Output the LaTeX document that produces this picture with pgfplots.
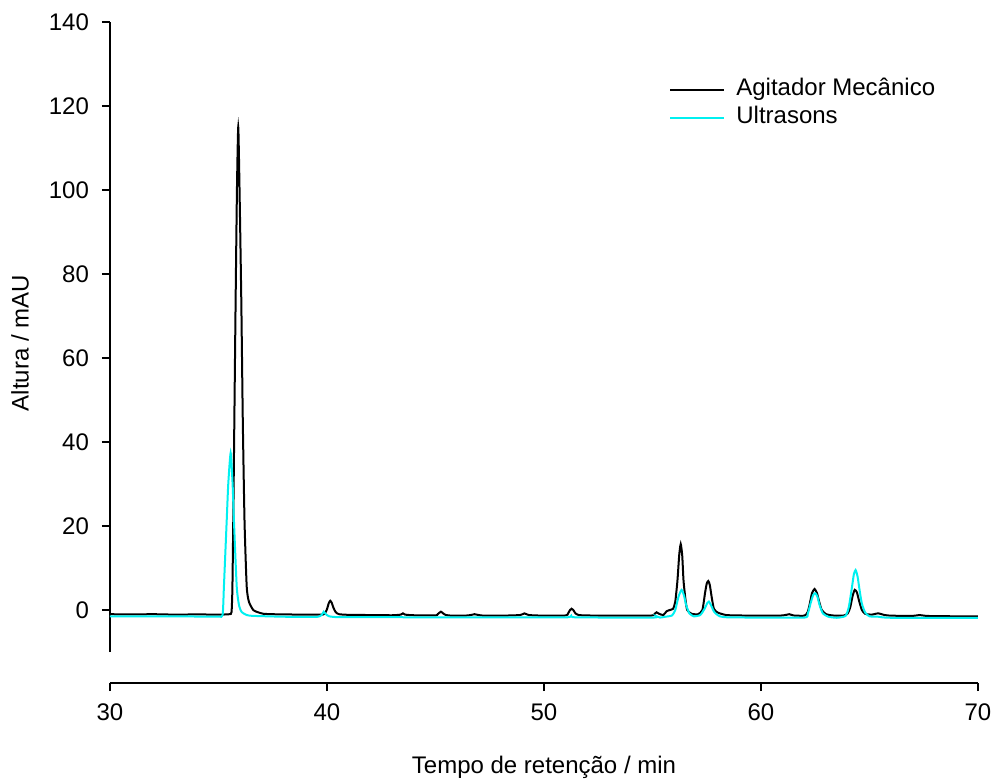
\documentclass[border=0pt]{standalone}
\usepackage{pgfplots}
\pgfplotsset{compat=1.18}
\usepackage{fontspec}
\setmainfont{Liberation Sans}
\definecolor{ultra}{HTML}{00F0F0}
\begin{document}
\begin{tikzpicture}
\pgfplotsset{every axis/.append style={font=\fontsize{12}{14.4}\selectfont,
  /pgf/number format/assume math mode=true, scale only axis, width=434pt,
  xmin=30, xmax=70, tick align=outside, major tick length=4pt,
  axis line style={line width=0.7pt}, tick style={line width=0.7pt,black}}}
% x axis, set lower than the data
\begin{axis}[at={(0,0)}, anchor=north west, height=330.5pt,
  ymin=-17.6, ymax=140, axis x line*=bottom, axis y line=none,
  xtick={30,40,...,70}, xticklabel style={yshift=-3pt},
  xlabel={Tempo de retenção / min},
  xlabel style={at={(axis description cs:0.5,0)}, anchor=center, yshift=-42pt}]
\end{axis}
% y axis and data
\begin{axis}[at={(0,0)}, anchor=north west, height=315pt,
  ymin=-10, ymax=140, axis y line*=left, axis x line=none,
  ytick={0,20,...,140}, yticklabel style={xshift=-3pt},
  ylabel={Altura / mAU},
  ylabel style={at={(axis description cs:-0.1037,0.49)}, anchor=center},
  legend style={at={(0.644,0.870)}, anchor=west, draw=none, fill=none,
    inner sep=0pt, column sep=5.5pt, row sep=2.8pt,
    nodes={inner sep=0pt, text height=8.6pt, text depth=2.6pt}},
  legend cell align=left,
  legend image code/.code={\draw[#1] (0pt,0pt) -- (27pt,0pt);}]
\addplot[black, line width=1pt, smooth, tension=0.35] coordinates {
(30,-1.0)(31,-1.05)(32,-1.0)(33,-1.1)(34,-1.05)(35,-1.1)(35.5,-1.0)(35.6,-0.5)
(35.64,5)(35.68,21)(35.73,45)(35.79,74)(35.85,100)(35.91,115)(35.97,100)(36.05,74)
(36.12,45)(36.2,21)(36.3,5.6)(36.4,2.0)(36.6,0)(36.8,-0.5)(37.07,-0.9)(37.5,-1.0)
(38,-1.05)(39,-1.1)(39.8,-1.1)(39.9,-0.9)(40.0,0.2)(40.08,1.6)(40.15,2.2)(40.22,1.7)
(40.3,0.5)(40.4,-0.5)(40.55,-1.0)(41,-1.15)(42,-1.2)(43,-1.25)(43.4,-1.1)(43.5,-0.8)
(43.6,-1.1)(44,-1.25)(45,-1.3)(45.1,-1.0)(45.25,-0.4)(45.4,-1.0)(45.6,-1.3)(46.5,-1.3)
(46.8,-1.0)(47.1,-1.3)(48,-1.35)(48.9,-1.2)(49.1,-0.8)(49.3,-1.2)(50,-1.35)(51,-1.3)
(51.1,-0.9)(51.2,0.0)(51.27,0.3)(51.35,0.0)(51.45,-0.8)(51.6,-1.2)(52,-1.3)(53,-1.35)
(54,-1.35)(55,-1.3)(55.1,-0.9)(55.19,-0.55)(55.3,-0.9)(55.5,-1.2)(55.65,-0.3)(55.8,0.0)
(55.95,0.3)(56.05,2)(56.15,7)(56.23,13)(56.3,15.7)(56.37,13)(56.43,7)(56.52,2.5)
(56.6,0.0)(56.8,-0.9)(57.1,-1.0)(57.3,0)(57.42,4)(57.5,6.3)(57.57,6.9)(57.64,6.0)
(57.73,3)(57.83,0.3)(58.0,-0.6)(58.4,-1.2)(59,-1.3)(60,-1.35)(61,-1.3)(61.3,-1.0)
(61.5,-1.3)(62,-1.35)(62.15,-0.5)(62.25,1.5)(62.35,4)(62.47,5.0)(62.58,4)(62.68,2)
(62.8,0)(63.0,-1.0)(63.3,-1.3)(63.8,-1.35)(64.0,-0.8)(64.12,0.8)(64.22,3.3)(64.32,4.8)
(64.42,4.2)(64.52,2.2)(64.65,0)(64.8,-0.9)(65.1,-1.1)(65.4,-0.8)(65.7,-1.2)(66,-1.35)
(67,-1.4)(67.3,-1.2)(67.6,-1.4)(68,-1.45)(69,-1.5)(70,-1.5)};
\addlegendentry{Agitador Mecânico}
\addplot[ultra, line width=1pt, smooth, tension=0.35] coordinates {
(30,-1.5)(32,-1.5)(34,-1.55)(35.0,-1.55)(35.19,-1.2)(35.25,5.6)(35.38,21.5)(35.45,30)
(35.56,37.4)(35.65,30)(35.71,21.5)(35.84,5.6)(35.95,1)(36.07,-0.5)(36.3,-1.2)(36.6,-1.4)
(38,-1.6)(39.5,-1.65)(39.75,-1.2)(39.85,-0.4)(39.95,-1.0)(40.1,-1.5)(40.5,-1.7)
(42,-1.7)(45,-1.75)(48,-1.75)(51,-1.75)(51.25,-1.4)(51.5,-1.75)(55,-1.8)(55.19,-1.5)
(55.35,-1.8)(55.6,-1.6)(55.9,-1.3)(56.05,0)(56.2,3.2)(56.34,4.8)(56.45,3.5)(56.55,1.2)
(56.7,-0.8)(56.9,-1.5)(57.2,-1.2)(57.4,0.3)(57.53,1.7)(57.6,2.0)(57.7,1.1)(57.85,-0.5)
(58.1,-1.5)(58.5,-1.75)(60,-1.8)(62,-1.8)(62.15,-1.0)(62.28,1.5)(62.4,3.5)(62.5,4.0)
(62.6,3.2)(62.7,1.2)(62.85,-0.8)(63.1,-1.6)(63.5,-1.85)(63.9,-1.4)(64.05,0.8)(64.18,5)
(64.28,8.5)(64.36,9.5)(64.45,8)(64.55,4.5)(64.65,1.5)(64.8,-0.6)(65.0,-1.5)(65.4,-1.6)
(66,-1.85)(70,-1.9)};
\addlegendentry{Ultrasons}
\end{axis}
\pgfresetboundingbox
\path (-55pt,11pt) rectangle (441.5pt,-380pt);
\end{tikzpicture}
\end{document}
